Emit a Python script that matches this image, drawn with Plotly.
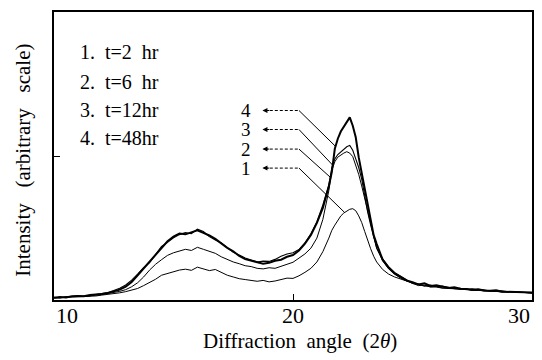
import numpy as np
import plotly.graph_objects as go

# Diffraction angle (2theta) grid shared by all curves
two_theta = [
    10.0, 10.25, 10.5, 10.75, 11.0, 11.25, 11.5, 11.75, 12.0, 12.25, 12.5, 12.75,
    13.0, 13.25, 13.5, 13.75, 14.0, 14.25, 14.5, 14.75, 15.0, 15.25, 15.5, 15.75,
    16.0, 16.25, 16.5, 16.75, 17.0, 17.25, 17.5, 17.75, 18.0, 18.25, 18.5, 18.75,
    19.0, 19.25, 19.5, 19.75, 20.0, 20.25, 20.5, 20.75, 21.0, 21.25, 21.5,
    21.625, 21.75, 21.875, 22.0, 22.125, 22.25, 22.375, 22.5, 22.625, 22.75, 22.875,
    23.0, 23.125, 23.25, 23.375, 23.5,
    23.75, 24.0, 24.25, 24.5, 24.75, 25.0, 25.25, 25.5, 25.75, 26.0, 26.25, 26.5,
    26.75, 27.0, 27.25, 27.5, 27.75, 28.0, 28.25, 28.5, 28.75, 29.0, 29.25, 29.5,
    29.75, 30.0,
]

# Intensity, arbitrary scale (0-100 = plot height)
t2hr = [
    0.8, 0.7, 1.0, 1.1, 1.0, 1.3, 1.4, 1.4, 1.7, 1.9, 2.1, 2.5,
    2.9, 3.4, 4.0, 5.0, 6.0, 7.2, 8.6, 9.2, 9.6, 10.4, 10.7, 10.3,
    11.4, 10.8, 10.2, 10.6, 9.6, 8.6, 8.0, 7.4, 7.1, 6.9, 6.5, 6.8,
    6.3, 6.6, 7.2, 7.6, 7.5, 8.4, 9.6, 11.0, 13.2, 16.8, 21.5,
    24.2, 26.0, 27.5, 29.2, 30.2, 30.9, 31.5, 31.7, 31.0, 29.2, 26.9,
    23.8, 20.6, 17.8, 15.2, 13.2,
    10.6, 9.0, 8.0, 7.2, 6.6, 6.0, 5.4, 5.0, 4.6, 4.5, 4.1, 4.0,
    3.8, 3.6, 3.7, 3.3, 3.4, 3.1, 3.0, 3.1, 2.8, 2.7, 2.8, 2.5,
    2.4, 2.5,
]
t6hr = [
    0.7, 0.9, 1.0, 1.1, 1.4, 1.3, 1.6, 1.7, 1.9, 2.2, 2.6, 3.0,
    3.6, 4.6, 6.0, 8.0, 10.4, 12.4, 14.0, 15.5, 16.4, 16.9, 17.6, 17.2,
    18.3, 17.6, 16.9, 16.2, 15.0, 14.1, 13.2, 12.6, 11.9, 11.6, 11.0, 10.8,
    11.2, 11.0, 11.6, 12.4, 13.1, 14.5, 16.0, 18.0, 21.5, 28.0, 38.0,
    45.0, 48.0, 49.6, 50.4, 51.0, 51.5, 51.0, 49.8, 47.0, 43.6, 39.6,
    35.2, 30.6, 25.8, 21.6, 18.0,
    13.6, 10.9, 9.0, 7.6, 6.6, 5.8, 5.0, 5.2, 4.5, 4.7, 4.2, 4.4,
    3.9, 3.7, 3.9, 3.4, 3.3, 3.5, 3.1, 3.0, 2.8, 3.0, 2.7, 2.6,
    2.6, 2.5,
]
t12hr = [
    0.9, 0.8, 1.1, 1.2, 1.3, 1.5, 1.4, 1.9, 2.2, 2.6, 3.3, 4.1,
    5.2, 6.9, 9.0, 11.2, 13.0, 15.9, 18.6, 20.0, 21.6, 22.7, 23.4, 23.0,
    24.6, 23.8, 22.0, 20.8, 19.8, 18.2, 16.6, 15.6, 14.6, 13.9, 13.2, 13.5,
    13.4, 14.1, 15.2, 16.0, 16.4, 17.5, 19.8, 23.0, 27.2, 33.0, 40.0,
    46.0, 49.0, 50.5, 51.5, 52.5, 53.2, 53.7, 52.0, 49.0, 46.0, 42.0,
    36.0, 30.5, 26.0, 21.5, 18.0,
    14.3, 11.6, 9.6, 8.3, 6.9, 5.7, 5.5, 4.8, 5.2, 4.6, 4.8, 4.3,
    4.0, 4.1, 3.6, 3.9, 3.5, 3.4, 3.2, 3.1, 3.2, 2.9, 2.7, 2.8,
    2.5, 2.4,
]
t48hr = [
    0.8, 1.0, 0.9, 1.3, 1.4, 1.3, 1.7, 1.8, 2.1, 2.4, 2.9, 3.6,
    4.6, 6.2, 8.6, 11.0, 13.4, 15.6, 17.9, 20.4, 22.0, 23.1, 22.8, 23.6,
    24.2, 23.3, 22.4, 21.2, 19.5, 18.1, 16.9, 15.3, 14.2, 13.6, 13.0, 12.6,
    12.9, 13.6, 14.0, 15.0, 15.6, 17.2, 19.6, 22.6, 26.8, 32.0, 39.5,
    44.5, 52.5, 56.0, 58.5, 60.0, 61.5, 63.4, 60.5, 56.5, 49.5, 44.0,
    38.8, 33.0, 27.8, 22.5, 19.5,
    14.0, 11.2, 9.2, 8.0, 6.8, 6.2, 5.4, 5.8, 4.9, 5.1, 4.6, 4.2,
    4.4, 3.9, 3.8, 3.6, 3.7, 3.3, 3.2, 3.4, 2.9, 2.8, 2.9, 2.6,
    2.5, 2.6,
]

series = [t2hr, t6hr, t12hr, t48hr]
series_width = [1.0, 1.0, 1.1, 2.0]

legend_lines = ["1.&nbsp; t=2&nbsp; hr", "2.&nbsp; t=6&nbsp; hr", "3.&nbsp; t=12hr", "4.&nbsp; t=48hr"]
legend_y = [86.0, 75.6, 66.0, 56.2]

curve_labels = ["1", "2", "3", "4"]
label_y = [45.8, 52.4, 59.2, 65.8]
leader_end_x = [22.16, 21.58, 21.66, 21.78]
label_x = 18.05
arrow_head_x = 18.72
leader_bend_x = 20.25

x_ticks = [10, 20, 30]
x_tick_text = ["10", "20", "30"]
x_tick_anchor = ["left", "center", "right"]
y_ticks = [50]

FONT = "Liberation Serif"

fig = go.Figure()
for ys, w in zip(series, series_width):
    fig.add_trace(go.Scatter(x=two_theta, y=ys, mode="lines",
                             line=dict(color="black", width=w),
                             showlegend=False, hoverinfo="skip"))

for i, lab in enumerate(curve_labels):
    ey = float(np.interp(leader_end_x[i], two_theta, series[i]))
    fig.add_trace(go.Scatter(x=[arrow_head_x + 0.1, leader_bend_x], y=[label_y[i], label_y[i]],
                             mode="lines", line=dict(color="black", width=1, dash="3px,2px"),
                             showlegend=False, hoverinfo="skip"))
    fig.add_trace(go.Scatter(x=[leader_bend_x, leader_end_x[i]], y=[label_y[i], ey],
                             mode="lines", line=dict(color="black", width=1),
                             showlegend=False, hoverinfo="skip"))
    fig.add_annotation(x=arrow_head_x, y=label_y[i], ax=arrow_head_x + 0.35, ay=label_y[i],
                       xref="x", yref="y", axref="x", ayref="y", text="",
                       showarrow=True, arrowhead=2, arrowsize=1, arrowwidth=1, arrowcolor="black")
    fig.add_annotation(x=label_x, y=label_y[i], text=lab, showarrow=False, borderpad=0,
                       xref="x", yref="y", font=dict(family=FONT, size=19, color="black"))

for txt, yy in zip(legend_lines, legend_y):
    fig.add_annotation(x=11.0, y=yy, text=txt, showarrow=False, xref="x", yref="y",
                       xanchor="left", font=dict(family=FONT, size=20, color="black"))

for tv, tt, an in zip(x_ticks, x_tick_text, x_tick_anchor):
    fig.add_annotation(x=tv, y=0, xref="x", yref="paper", yanchor="top", xanchor=an,
                       yshift=-1, text=tt, showarrow=False,
                       font=dict(family=FONT, size=22, color="black"))

fig.add_annotation(x=0.515, y=-0.095, xref="paper", yref="paper", yanchor="top",
                   xanchor="center",
                   text="Diffraction&nbsp; angle&nbsp; (2<i>θ</i>)", showarrow=False,
                   font=dict(family=FONT, size=21, color="black"))
fig.add_annotation(x=-0.064, y=0.485, xref="paper", yref="paper", textangle=-90,
                   xanchor="center", yanchor="middle",
                   text="Intensity&nbsp;&nbsp; (arbitrary&nbsp;&nbsp; scale)", showarrow=False,
                   font=dict(family=FONT, size=21, color="black"))

fig.update_xaxes(range=[10, 30], tickvals=x_ticks, ticks="inside", ticklen=6, tickwidth=1,
                 tickcolor="black", showticklabels=False, showline=True, mirror=True,
                 linecolor="black", linewidth=1.5, showgrid=False, zeroline=False)
fig.update_yaxes(range=[0, 100], tickvals=y_ticks, ticks="inside", ticklen=6, tickwidth=1,
                 tickcolor="black", showticklabels=False, showline=True, mirror=True,
                 linecolor="black", linewidth=1.5, showgrid=False, zeroline=False)

fig.update_layout(width=542, height=360, margin=dict(l=54, r=8, t=12, b=60),
                  plot_bgcolor="white", paper_bgcolor="white", showlegend=False)

fig.write_html("out.html")
